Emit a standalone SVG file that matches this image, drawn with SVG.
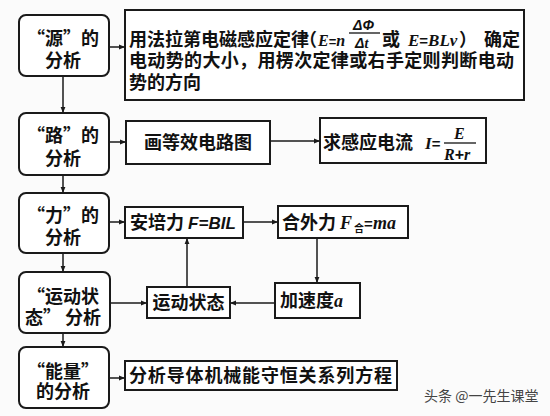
<svg xmlns="http://www.w3.org/2000/svg" width="550" height="416" viewBox="0 0 550 416">
<defs>
<marker id="ah" viewBox="0 0 10 10" refX="10" refY="5" markerWidth="6" markerHeight="6" markerUnits="userSpaceOnUse" orient="auto">
<path d="M0,1 L10,5 L0,9 z" fill="#1a1a1a"/>
</marker>
</defs>
<style>
.bg{fill:#fbfbfb}
.lb{fill:#fff;stroke:#1a1a1a;stroke-width:2}
.rb{fill:#fff;stroke:#1a1a1a;stroke-width:2}
.t{font-family:"Noto Sans CJK SC","Noto Sans",sans-serif;font-size:18px;font-weight:bold;fill:#111}
.m{font-family:"Liberation Serif","Noto Sans CJK SC",serif;font-style:italic;font-weight:bold;fill:#111}
.ms{font-family:"Liberation Sans","Noto Sans CJK SC",sans-serif;font-style:italic;font-weight:bold;fill:#111}
.u{font-family:"Liberation Sans","Noto Sans CJK SC",sans-serif;font-weight:bold;font-style:normal;fill:#111}
.c{text-anchor:middle}
.ln{stroke:#1a1a1a;stroke-width:1.5;fill:none;marker-end:url(#ah)}
.wm{font-family:"Noto Sans CJK SC",sans-serif;font-size:14px;fill:#444}
</style>
<rect class="bg" x="0" y="0" width="550" height="416"/>

<g id="connectors">
<line class="ln" x1="63" y1="76" x2="63" y2="113"/>
<line class="ln" x1="63" y1="175" x2="63" y2="193"/>
<line class="ln" x1="63" y1="253" x2="63" y2="272"/>
<line class="ln" x1="63" y1="333" x2="63" y2="347"/>
<line class="ln" x1="109" y1="47" x2="125" y2="47"/>
<line class="ln" x1="109" y1="142" x2="126" y2="142"/>
<line class="ln" x1="109" y1="222" x2="125" y2="222"/>
<line class="ln" x1="110" y1="303" x2="147" y2="303"/>
<line class="ln" x1="109" y1="378" x2="125" y2="378"/>
<line class="ln" x1="270" y1="141" x2="320" y2="141"/>
<line class="ln" x1="243" y1="222" x2="278" y2="222"/>
<line class="ln" x1="317" y1="238" x2="317" y2="283"/>
<line class="ln" x1="275" y1="303" x2="230" y2="303"/>
<line class="ln" x1="187" y1="287" x2="187" y2="238"/>
</g>

<g id="n-source">
<rect class="lb" x="19" y="15" width="90" height="61" rx="7"/>
<text class="t c" x="63" y="45">“源”的</text>
<text class="t c" x="63" y="67">分析</text>
</g>
<g id="n-source-detail">
<rect class="rb" x="125" y="10" width="399" height="90"/>
<line x1="349" y1="33" x2="380" y2="33" stroke="#111" stroke-width="1.3"/>
<text class="t" x="129" y="46">用法拉第电磁感应定律<tspan x="299" y="46">（</tspan><tspan class="m" font-size="16" x="318" y="46">E</tspan><tspan class="u" font-size="13">=</tspan><tspan class="m" font-size="16">n</tspan><tspan class="ms" font-size="14" x="353" y="30">ΔΦ</tspan><tspan class="ms" font-size="14" x="355" y="48">Δ</tspan><tspan class="m" font-size="14">t</tspan><tspan x="382" y="46">或</tspan><tspan class="m" font-size="17" x="408" y="46">E</tspan><tspan class="u" font-size="15">=</tspan><tspan class="m" font-size="17">BLv</tspan><tspan x="459" y="46">）</tspan><tspan x="484" y="46">确定</tspan></text>
<text class="t" x="129" y="67" textLength="385" lengthAdjust="spacing">电动势的大小，用楞次定律或右手定则判断电动</text>
<text class="t" x="129" y="89">势的方向</text>
</g>

<g id="n-circuit">
<rect class="lb" x="19" y="113" width="90" height="62" rx="7"/>
<text class="t c" x="63" y="142">“路”的</text>
<text class="t c" x="63" y="165">分析</text>
</g>
<g id="n-equiv">
<rect class="rb" x="126" y="121" width="144" height="43"/>
<text class="t c" x="198" y="149">画等效电路图</text>
</g>
<g id="n-current">
<rect class="rb" x="320" y="118" width="166" height="45"/>
<line x1="444" y1="143" x2="476" y2="143" stroke="#111" stroke-width="1.3"/>
<text class="t" x="323" y="149">求感应电流<tspan class="m" font-size="17" x="425" y="149">I</tspan><tspan class="u" font-size="15">=</tspan><tspan class="m" font-size="16" x="454" y="139">E</tspan><tspan class="m" font-size="16" x="444" y="160">R</tspan><tspan class="u" font-size="16">+</tspan><tspan class="m" font-size="16">r</tspan></text>
</g>

<g id="n-force">
<rect class="lb" x="19" y="193" width="90" height="60" rx="7"/>
<text class="t c" x="63" y="222">“力”的</text>
<text class="t c" x="63" y="244">分析</text>
</g>
<g id="n-ampere">
<rect class="rb" x="125" y="207" width="118" height="31"/>
<text class="t" x="130" y="229">安培力 <tspan class="ms" font-size="17">F=BIL</tspan></text>
</g>
<g id="n-net">
<rect class="rb" x="278" y="206" width="130" height="32"/>
<text class="t" x="282" y="229">合外力 <tspan class="m" font-size="18">F</tspan><tspan font-size="10" dx="2" dy="3">合</tspan><tspan class="u" font-size="15" dy="-3">=</tspan><tspan class="m" font-size="18">ma</tspan></text>
</g>

<g id="n-motion">
<rect class="lb" x="19" y="272" width="91" height="61" rx="7"/>
<text class="t c" x="63" y="303">“运动状</text>
<text class="t c" x="63" y="324">态” 分析</text>
</g>
<g id="n-state">
<rect class="rb" x="147" y="287" width="83" height="31"/>
<text class="t c" x="188.5" y="309">运动状态</text>
</g>
<g id="n-accel">
<rect class="rb" x="275" y="283" width="85" height="35"/>
<text class="t" x="280" y="307">加速度<tspan class="m" font-size="18">a</tspan></text>
</g>

<g id="n-energy">
<rect class="lb" x="19" y="347" width="90" height="61" rx="7"/>
<text class="t c" x="63" y="378">“能量”</text>
<text class="t c" x="63" y="398">的分析</text>
</g>
<g id="n-energy-detail">
<rect class="rb" x="125" y="361" width="272" height="29"/>
<text class="t" x="129" y="382" textLength="263" lengthAdjust="spacing">分析导体机械能守恒关系列方程</text>
</g>

<text class="wm" x="424" y="401">头条 @一先生课堂</text>
</svg>
